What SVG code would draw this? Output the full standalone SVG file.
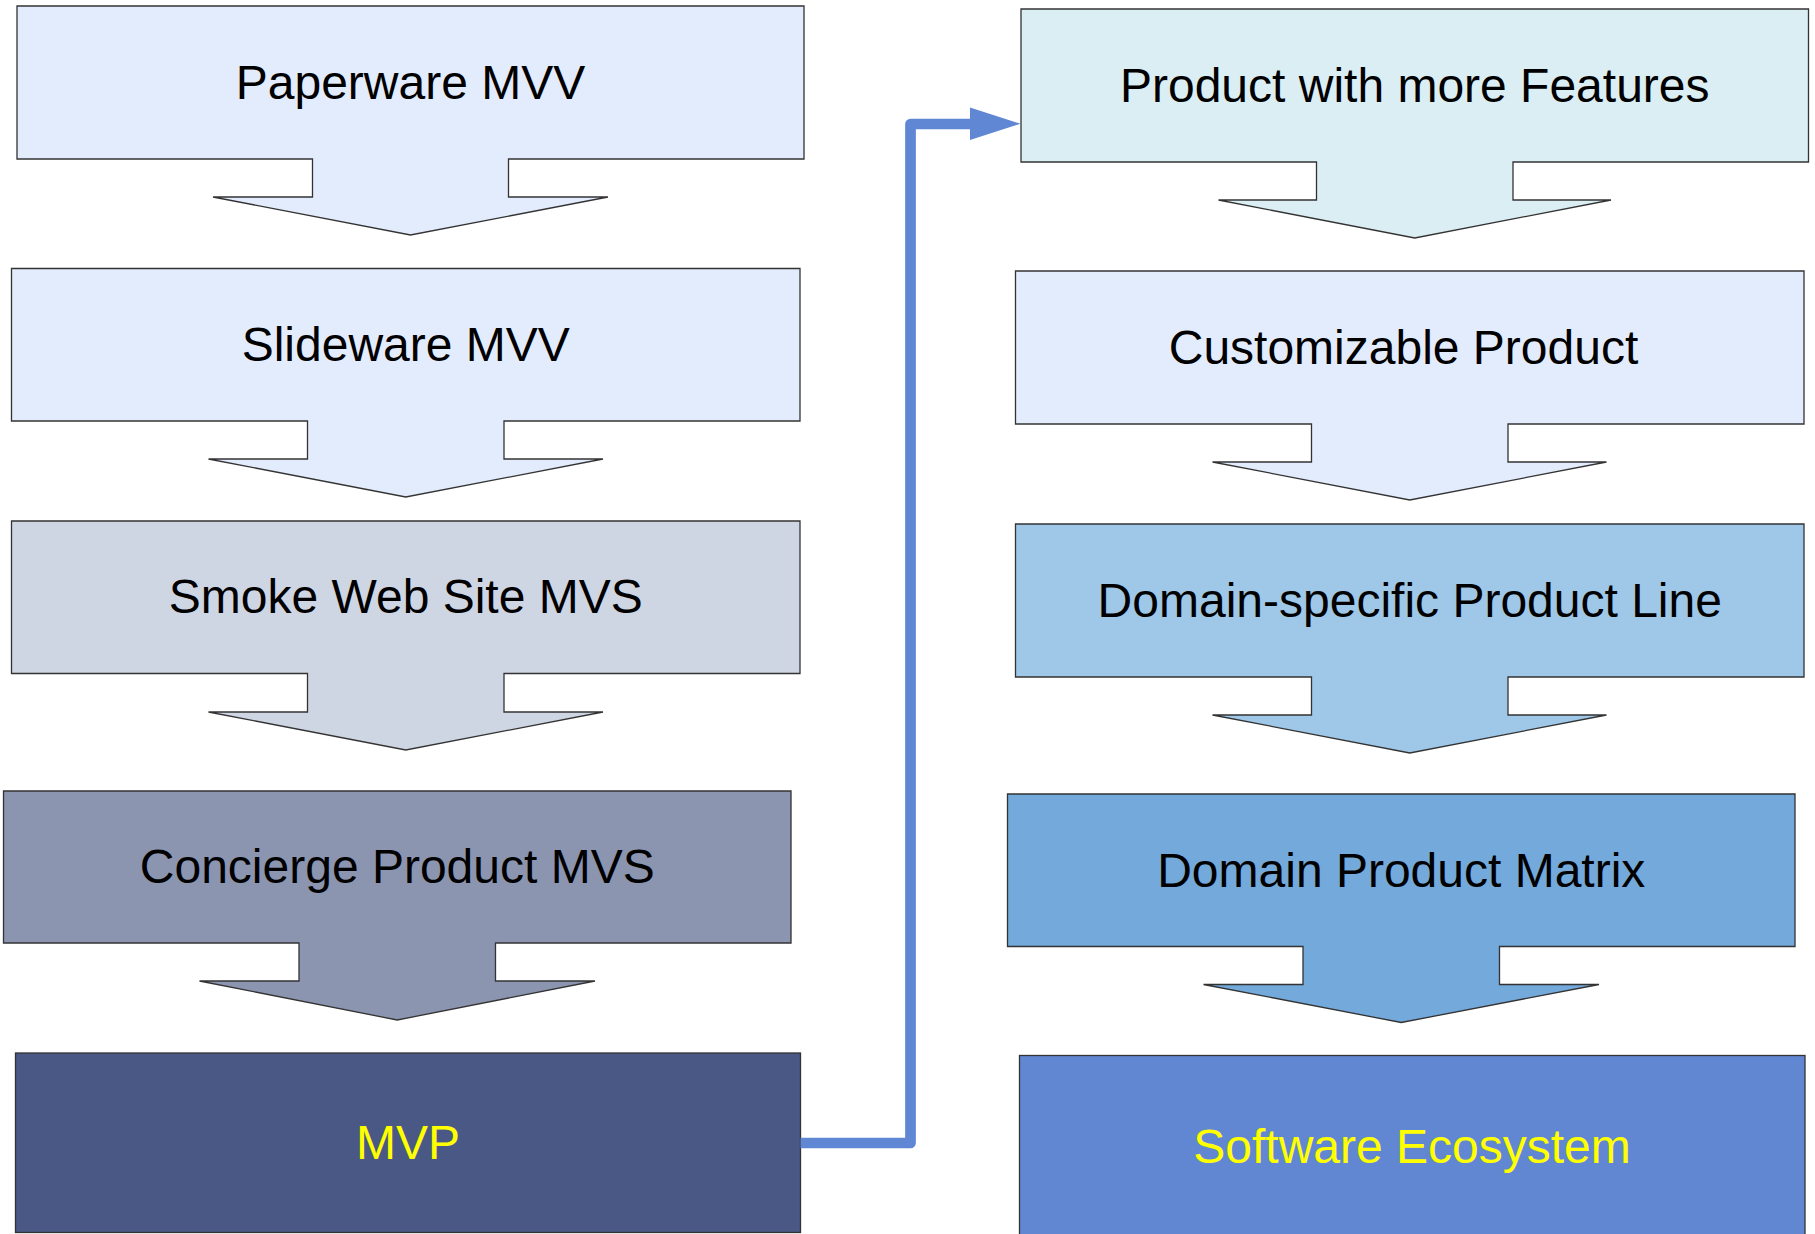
<svg xmlns="http://www.w3.org/2000/svg" width="1815" height="1234" viewBox="0 0 1815 1234">
<style>
.shape{stroke:#333333;stroke-width:1.3;stroke-linejoin:miter}
.lbl{font-family:"Liberation Sans",Arial,sans-serif;font-size:48px;text-anchor:middle;fill:#000}
.yel{fill:#ffff00}
.conn{fill:none;stroke:#5f87d4;stroke-width:10.7;stroke-linejoin:round}
</style>
<rect width="1815" height="1234" fill="#ffffff"/>
<g id="paperware">
<polygon class="shape" fill="#e3ecfd" points="17,6 804,6 804,159 508.5,159 508.5,197 608,197 410.5,235 213,197 312.5,197 312.5,159 17,159"/>
<text class="lbl" x="410.5" y="98.5">Paperware MVV</text>
</g>
<g id="slideware">
<polygon class="shape" fill="#e3ecfd" points="11.5,268.5 800,268.5 800,421 504,421 504,459 603,459 405.75,497 208.5,459 307.5,459 307.5,421 11.5,421"/>
<text class="lbl" x="405.75" y="360.5">Slideware MVV</text>
</g>
<g id="smoke">
<polygon class="shape" fill="#cfd6e3" points="11.5,521 800,521 800,673.5 504,673.5 504,712 603,712 405.75,750 208.5,712 307.5,712 307.5,673.5 11.5,673.5"/>
<text class="lbl" x="405.75" y="613">Smoke Web Site MVS</text>
</g>
<g id="concierge">
<polygon class="shape" fill="#8b95b0" points="3.5,791 791,791 791,943 495.5,943 495.5,981 595,981 397.25,1020 199.5,981 299,981 299,943 3.5,943"/>
<text class="lbl" x="397.25" y="883">Concierge Product MVS</text>
</g>
<g id="mvp">
<rect class="shape" fill="#4a5885" x="15.5" y="1053" width="785" height="179.5"/>
<text class="lbl yel" x="408" y="1159">MVP</text>
</g>
<g id="features">
<polygon class="shape" fill="#daeef4" points="1021,9 1808.5,9 1808.5,162 1513,162 1513,200 1611,200 1414.75,238 1218.5,200 1316.5,200 1316.5,162 1021,162"/>
<text class="lbl" x="1414.75" y="101.5">Product with more Features</text>
</g>
<g id="customizable">
<polygon class="shape" fill="#e3ecfd" points="1015.5,271 1804,271 1804,424 1508,424 1508,462 1606.5,462 1409.75,500 1212.5,462 1311.5,462 1311.5,424 1015.5,424"/>
<text class="lbl" x="1403.5" y="363.5">Customizable Product</text>
</g>
<g id="productline">
<polygon class="shape" fill="#9ec7e8" points="1015.5,524 1804,524 1804,677 1508,677 1508,715 1606.5,715 1409.75,753 1212.5,715 1311.5,715 1311.5,677 1015.5,677"/>
<text class="lbl" x="1409.75" y="616.5">Domain-specific Product Line</text>
</g>
<g id="matrix">
<polygon class="shape" fill="#73a9db" points="1007.5,794 1795,794 1795,946.5 1499.5,946.5 1499.5,984.5 1599,984.5 1401.25,1022.5 1203.5,984.5 1303,984.5 1303,946.5 1007.5,946.5"/>
<text class="lbl" x="1401.25" y="886.5">Domain Product Matrix</text>
</g>
<g id="ecosystem">
<rect class="shape" fill="#6187d3" x="1019.5" y="1055.5" width="785.5" height="182"/>
<text class="lbl yel" x="1412" y="1162.5">Software Ecosystem</text>
</g>
<g id="connectors">
<path class="conn" d="M800.5,1143 H910.5 V124 H975"/>
<polygon fill="#5f87d4" points="970,107.5 1020.5,123.8 970,140"/>
</g>
</svg>
